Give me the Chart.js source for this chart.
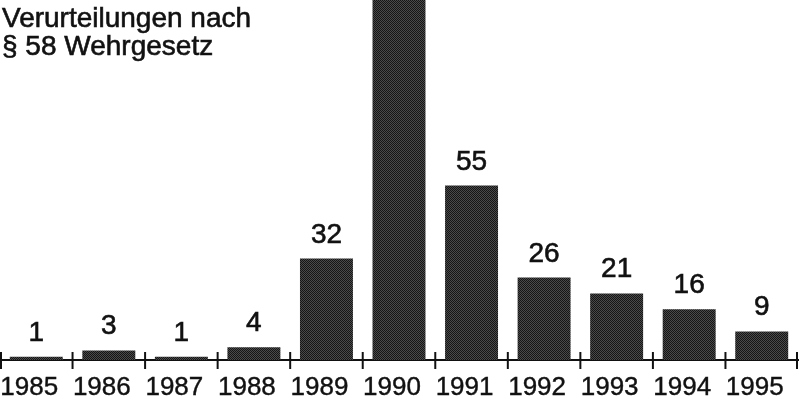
<!DOCTYPE html>
<html>
<head>
<meta charset="utf-8">
<script src="https://cdn.jsdelivr.net/npm/chart.js@4"></script>
<style>
  html, body { margin: 0; padding: 0; background: #fff; }
  #wrap { position: relative; width: 800px; height: 403px; }
</style>
</head>
<body>
<div id="wrap"><canvas id="chart"></canvas></div>
<script>
// data
const years = ['1985', '1986', '1987', '1988', '1989', '1990', '1991', '1992', '1993', '1994', '1995'];
const convictions = [1, 3, 1, 4, 32, 114, 55, 26, 21, 16, 9]; // 1990 runs off the top, label not visible
const titleLines = ['Verurteilungen nach', '§ 58 Wehrgesetz'];

const FONT = '"Liberation Sans", Arial, Helvetica, sans-serif';

// halftone-ish fill like the scanned print
function makeDots() {
  const c = document.createElement('canvas');
  c.width = 2; c.height = 2;
  const g = c.getContext('2d');
  g.fillStyle = '#4a4a4a';
  g.fillRect(0, 0, 2, 2);
  g.fillStyle = '#151515';
  g.fillRect(0, 0, 1, 1);
  g.fillRect(1, 1, 1, 1);
  return g.createPattern(c, 'repeat');
}

// print-like text: fill plus a thin stroke so it reads a bit heavier
function inkText(ctx, txt, x, y) {
  ctx.strokeText(txt, x, y);
  ctx.fillText(txt, x, y);
}

// title, value labels and the little cross ticks on the axis
const extras = {
  id: 'extras',
  afterDatasetsDraw(chart) {
    const ctx = chart.ctx;
    const area = chart.chartArea;
    const meta = chart.getDatasetMeta(0);
    const x = chart.scales.x;

    ctx.save();
    ctx.fillStyle = '#111';
    ctx.strokeStyle = '#111';
    ctx.lineWidth = 0.6;
    ctx.textAlign = 'center';
    ctx.textBaseline = 'alphabetic';
    ctx.font = '28px ' + FONT;
    meta.data.forEach((bar, i) => {
      inkText(ctx, String(convictions[i]), bar.x, bar.y - 16);
    });

    ctx.textAlign = 'left';
    inkText(ctx, titleLines[0], 2, 27);
    inkText(ctx, titleLines[1], 2, 55);

    // ticks at category borders, crossing the axis line
    ctx.lineWidth = 2;
    for (let i = 0; i <= years.length; i++) {
      let px;
      if (i === 0) px = area.left + 1;
      else if (i === years.length) px = area.right - 1;
      else px = (x.getPixelForValue(i - 1) + x.getPixelForValue(i)) / 2;
      ctx.beginPath();
      ctx.moveTo(px, area.bottom - 8);
      ctx.lineTo(px, area.bottom + 9);
      ctx.stroke();
    }
    ctx.restore();
  }
};

new Chart(document.getElementById('chart'), {
  type: 'bar',
  data: {
    labels: years,
    datasets: [{
      data: convictions,
      backgroundColor: makeDots(),
      borderWidth: 0,
      barPercentage: 0.73,
      categoryPercentage: 1
    }]
  },
  options: {
    responsive: true,
    maintainAspectRatio: false,
    animation: false,
    layout: { padding: { left: 0, right: 2, top: 0, bottom: 0 } },
    plugins: {
      legend: { display: false },
      title: { display: false },
      tooltip: { enabled: false }
    },
    scales: {
      x: {
        grid: { display: false, drawTicks: false },
        border: { display: true, color: '#111', width: 2 },
        ticks: {
          color: '#111',
          font: { family: FONT, size: 26 },
          textStrokeColor: '#111',
          textStrokeWidth: 0.4,
          padding: 12,
          labelOffset: -7,
          autoSkip: false,
          maxRotation: 0
        },
        afterFit(scale) {
          scale.height = 43;
          scale.paddingLeft = 0;
          scale.paddingRight = 0;
        }
      },
      y: {
        display: false,
        min: 0,
        max: 113.5
      }
    }
  },
  plugins: [extras]
});
</script>
</body>
</html>
